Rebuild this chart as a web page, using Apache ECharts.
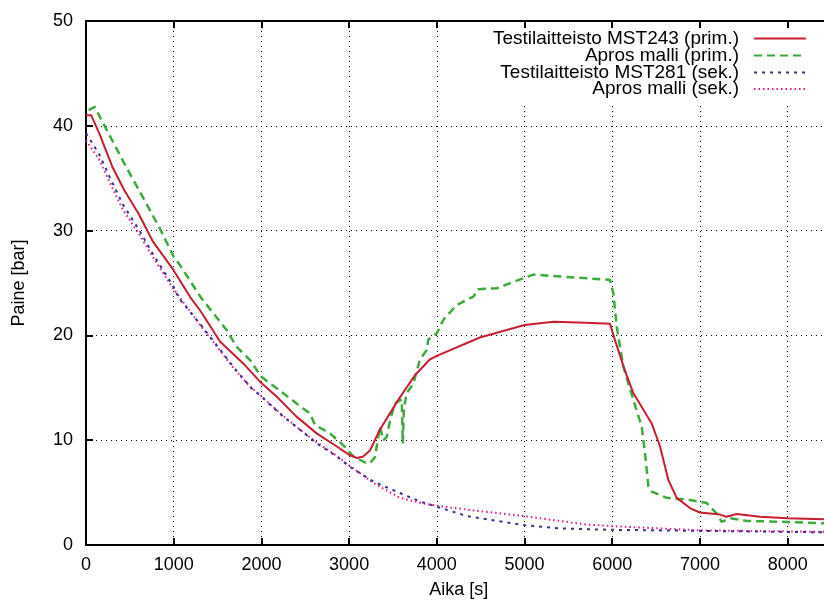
<!DOCTYPE html>
<html>
<head>
<meta charset="utf-8">
<script src="https://cdn.jsdelivr.net/npm/echarts@6/dist/echarts.min.js"></script>
<style>html,body{margin:0;padding:0;background:#fff}#c{width:824px;height:601px}</style>
</head>
<body>
<div id="c"></div>
<script>
// Series names
const seriesNames = ['Testilaitteisto MST243 (prim.)', 'Apros malli (prim.)', 'Testilaitteisto MST281 (sek.)', 'Apros malli (sek.)'];
const xTitle = 'Aika [s]';
const yTitle = 'Paine [bar]';

// [time s, pressure bar]
const primTest = [[0,41.0],[60,41.0],[80,40.9],[150,39.3],[300,36.1],[440,33.8],[600,31.6],[760,29.0],[1000,26.2],[1200,23.5],[1300,22.4],[1530,19.4],[1790,17.35],[2000,15.45],[2170,14.2],[2400,12.25],[2630,10.65],[2860,9.4],[3000,8.6],[3090,8.3],[3160,8.45],[3240,9.05],[3260,9.4],[3350,11.0],[3560,13.85],[3750,16.2],[3920,17.7],[4000,18.05],[4490,19.8],[5000,21.0],[5330,21.3],[5700,21.2],[5975,21.1],[6030,19.6],[6130,17.0],[6240,14.5],[6450,11.6],[6545,9.4],[6640,6.2],[6735,4.5],[6890,3.5],[7000,3.1],[7230,2.9],[7300,2.7],[7420,2.96],[7685,2.7],[8000,2.55],[8500,2.45]];

const primModel = [[30,41.5],[100,41.8],[230,39.7],[456,36.1],[608,33.8],[836,30.3],[1000,27.5],[1064,26.8],[1311,23.6],[1604,20.5],[1718,18.9],[1870,17.65],[2000,16.05],[2174,14.95],[2402,13.5],[2554,12.55],[2611,11.45],[2782,10.65],[2934,9.5],[3048,8.45],[3200,7.8],[3238,7.8],[3295,8.4],[3352,11.3],[3390,10.0],[3428,10.3],[3470,12.0],[3523,13.5],[3600,13.9],[3612,9.7],[3625,13.0],[3656,14.5],[3732,15.4],[3808,17.7],[3884,18.6],[3903,19.6],[4000,20.2],[4075,21.5],[4227,22.9],[4417,23.7],[4474,24.4],[4683,24.5],[4873,25.1],[5101,25.8],[5443,25.6],[5975,25.3],[6013,24.0],[6051,20.85],[6127,17.0],[6241,13.85],[6336,11.3],[6374,8.75],[6412,5.6],[6450,5.1],[6621,4.5],[6887,4.3],[7077,4.0],[7191,3.0],[7248,2.2],[7343,2.55],[7533,2.3],[8000,2.2],[8500,2.05]];

const secTest = [[0,39.3],[150,37.3],[270,35.1],[420,32.5],[610,30.0],[760,27.8],[1000,24.6],[1064,23.5],[1300,21.1],[1450,19.5],[1680,17.0],[1870,15.1],[2000,14.15],[2250,12.25],[2440,11.0],[2630,9.7],[2860,8.45],[3000,7.5],[3280,6.05],[3540,5.1],[3810,4.15],[4000,3.65],[4340,2.77],[4680,2.3],[5000,1.9],[5370,1.6],[5710,1.5],[6000,1.45],[7000,1.35],[8000,1.25],[8500,1.2]];

const secModel = [[0,38.6],[150,36.8],[270,34.6],[420,32.0],[610,29.6],[760,27.5],[1000,24.4],[1300,21.0],[1450,19.4],[1680,16.9],[1870,15.1],[2000,14.2],[2250,12.3],[2440,11.0],[2630,9.8],[2860,8.5],[3000,7.6],[3280,5.9],[3580,4.5],[3850,3.95],[4000,3.75],[4420,3.3],[5000,2.75],[5710,1.95],[6000,1.8],[6500,1.6],[7000,1.4],[8000,1.3],[8500,1.25]];

const FONT = '"Liberation Sans", Arial, sans-serif';
const colors = ['#c81e32', '#3caa3c', '#3a3090', '#e6158a'];
const dashes = ['solid', [8, 5], [3, 5], [1.5, 3]];
const widths = [2, 2.5, 2, 2];
const datas = [primTest, primModel, secTest, secModel];

const chart = echarts.init(document.getElementById('c'));
const legendTops = [29, 46, 63, 79.5];

const axisCommon = {
  min: 0,
  axisLine: { show: true, lineStyle: { color: '#000', width: 2 } },
  axisTick: { show: true, inside: true, length: 7, lineStyle: { color: '#000', width: 2 } },
};

chart.setOption({
  animation: false,
  backgroundColor: '#fff',
  color: colors,
  grid: { left: 86, top: 21, width: 745.5, height: 524, containLabel: false, outerBoundsMode: 'none' },
  legend: seriesNames.map((n, i) => ({
    data: [n],
    orient: 'vertical',
    right: 17,
    top: legendTops[i],
    align: 'right',
    padding: 0,
    itemWidth: 52,
    itemHeight: 10,
    selectedMode: false,
    itemStyle: { opacity: 0 },
    textStyle: { fontFamily: FONT, fontSize: 19, color: '#000', lineHeight: 17, padding: [0, 10, 0, 0] }
  })),
  graphic: [{
    type: 'rect', z: 1, silent: true,
    shape: { x: 482, y: 28, width: 342, height: 76 },
    style: { fill: '#fff' }
  }],
  xAxis: [
    Object.assign({}, axisCommon, {
      type: 'value', position: 'bottom', max: 8500, interval: 1000,
      name: xTitle, nameLocation: 'middle', nameGap: 36,
      nameTextStyle: { fontFamily: FONT, fontSize: 18, color: '#000' },
      axisLabel: { fontFamily: FONT, fontSize: 18, color: '#000', margin: 11, showMaxLabel: false, formatter: v => String(v) },
      splitLine: { show: true, lineStyle: { color: '#000', width: 1, type: [1, 4] } }
    }),
    Object.assign({}, axisCommon, {
      type: 'value', position: 'top', max: 8500, interval: 1000,
      axisLabel: { show: false }, splitLine: { show: false }
    })
  ],
  yAxis: Object.assign({}, axisCommon, {
    type: 'value', max: 50, interval: 10,
    name: yTitle, nameLocation: 'middle', nameGap: 58,
    nameTextStyle: { fontFamily: FONT, fontSize: 18, color: '#000' },
    axisLabel: { fontFamily: FONT, fontSize: 18, color: '#000', margin: 13 },
    splitLine: { show: true, lineStyle: { color: '#000', width: 1, type: [1, 4] } }
  }),
  series: seriesNames.map((n, i) => ({
    name: n, type: 'line', data: datas[i], symbol: 'none', showSymbol: false,
    xAxisIndex: 0, z: 2, clip: true,
    lineStyle: { color: colors[i], width: widths[i], type: dashes[i] },
    itemStyle: { color: colors[i] }
  })).reverse()
});
</script>
</body>
</html>
